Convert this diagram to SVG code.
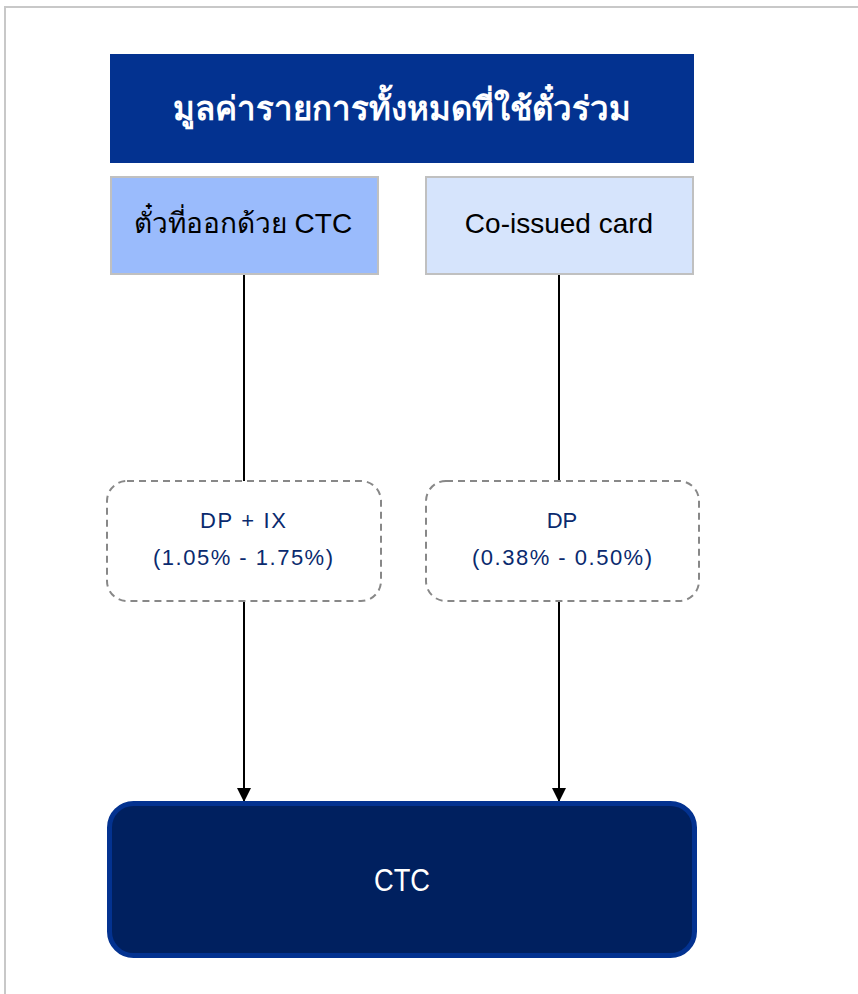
<svg xmlns="http://www.w3.org/2000/svg" width="858" height="994" viewBox="0 0 858 994">
<defs>
<style>
.lbl{font-family:"Liberation Sans","Noto Sans",Arial,sans-serif;text-anchor:middle}
.edge{stroke:#000;stroke-width:2;fill:none}
.fee{fill:none;stroke:#888;stroke-width:2;stroke-dasharray:7,5}
.feet{font-size:22px;fill:#0a2a6e}
</style>
<marker id="arr" markerWidth="16" markerHeight="16" refX="14" refY="7" orient="auto" markerUnits="userSpaceOnUse">
<path d="M0,0 L14,7 L0,14 Z" fill="#000"/>
</marker>
</defs>
<rect x="0" y="0" width="858" height="994" fill="#fff"/>
<rect x="5" y="7" width="900" height="1000" fill="none" stroke="#c8c8c8" stroke-width="2"/>
<g id="header">
<rect x="110" y="54" width="584" height="109" fill="#033290"/>
<text class="lbl" x="402" y="120" font-size="33" font-weight="bold" fill="#fff">มูลค่ารายการทั้งหมดที่ใช้ตั๋วร่วม</text>
</g>
<g id="ctc-ticket">
<rect x="111" y="177" width="267" height="97" fill="#9abbfc" stroke="#c0c0c0" stroke-width="2"/>
<text class="lbl" x="243" y="233" font-size="28" fill="#000">ตั๋วที่ออกด้วย CTC</text>
</g>
<g id="co-issued">
<rect x="426" y="177" width="267" height="97" fill="#d6e4fc" stroke="#c0c0c0" stroke-width="2"/>
<text class="lbl" x="559" y="233" font-size="28" fill="#000">Co-issued card</text>
</g>
<g id="connectors">
<line class="edge" x1="244" y1="275" x2="244" y2="481"/>
<line class="edge" x1="559" y1="275" x2="559" y2="481"/>
<line class="edge" x1="244" y1="601" x2="244" y2="802" marker-end="url(#arr)"/>
<line class="edge" x1="559" y1="601" x2="559" y2="802" marker-end="url(#arr)"/>
</g>
<g id="fee-left">
<rect class="fee" x="107" y="481" width="274" height="120" rx="20"/>
<text class="lbl feet" x="243" y="528" textLength="86" lengthAdjust="spacing">DP + IX</text>
<text class="lbl feet" x="243" y="565" textLength="180" lengthAdjust="spacing">(1.05% - 1.75%)</text>
</g>
<g id="fee-right">
<rect class="fee" x="426" y="481" width="273" height="120" rx="20"/>
<text class="lbl feet" x="562" y="528">DP</text>
<text class="lbl feet" x="562" y="565" textLength="180" lengthAdjust="spacing">(0.38% - 0.50%)</text>
</g>
<g id="ctc">
<rect x="109.5" y="803.5" width="585" height="152" rx="24" fill="#00205f" stroke="#033290" stroke-width="5"/>
<text class="lbl" x="402" y="891" font-size="32" fill="#fff" textLength="56" lengthAdjust="spacingAndGlyphs">CTC</text>
</g>
</svg>
